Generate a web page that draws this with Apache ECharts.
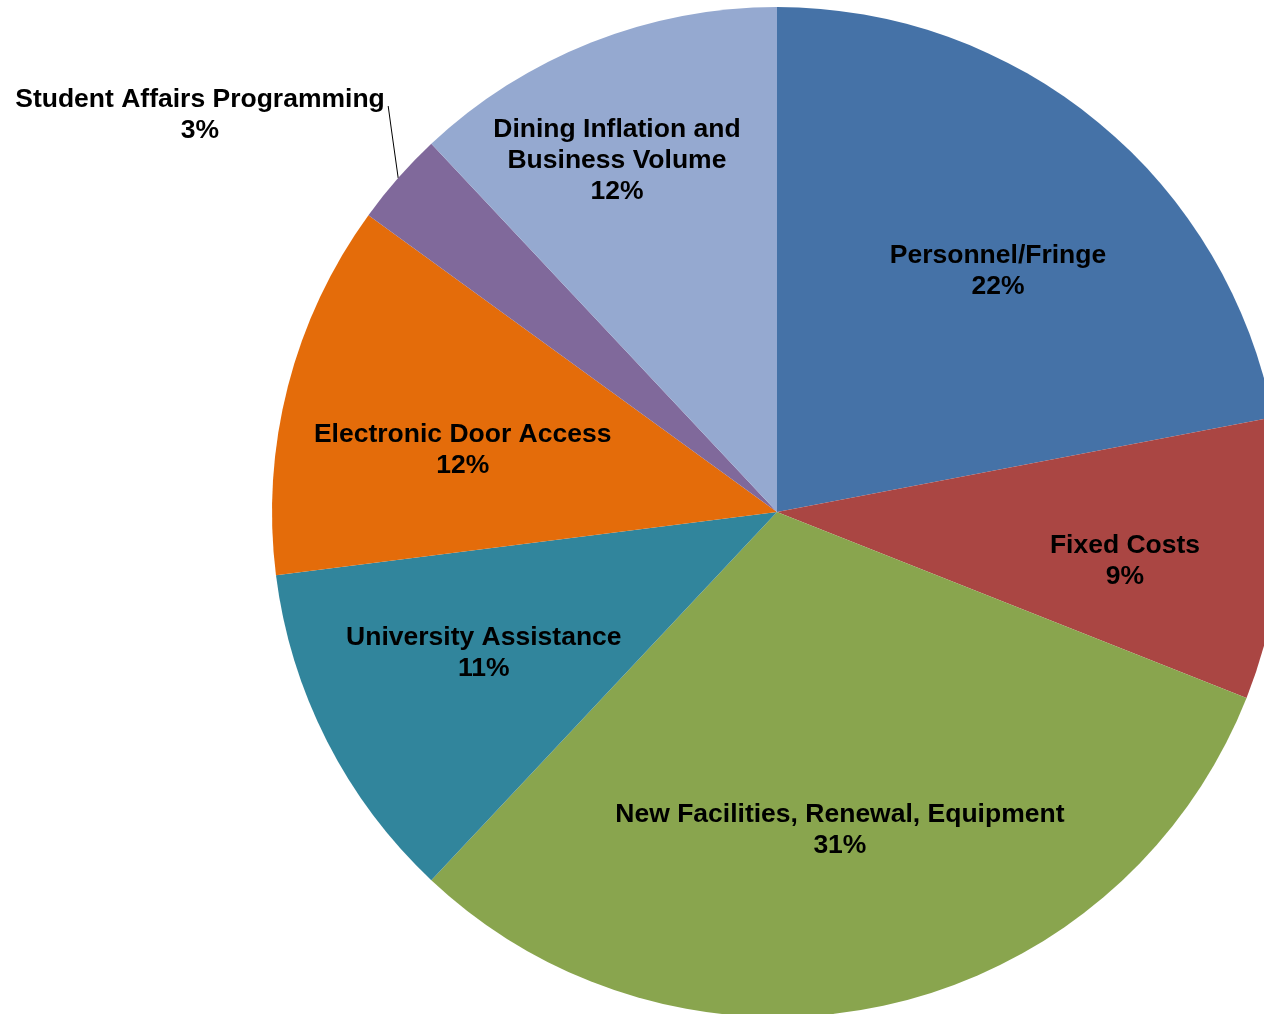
<!DOCTYPE html>
<html>
<head>
<meta charset="utf-8">
<style>
  html, body { margin: 0; padding: 0; background: #ffffff; }
  #chart { width: 1264px; height: 1014px; }
</style>
<script src="https://cdn.jsdelivr.net/npm/echarts@6/dist/echarts.min.js"></script>
</head>
<body>
<div id="chart"></div>
<script>
// Budget increase components, share of total (%), clockwise from 12 o'clock
const categories = [
  'Personnel/Fringe',
  'Fixed Costs',
  'New Facilities, Renewal, Equipment',
  'University Assistance',
  'Electronic Door Access',
  'Student Affairs Programming',
  'Dining Inflation and\nBusiness Volume'
];
const shares = [22, 9, 31, 11, 12, 3, 12];
const sliceColors = ['#4572A7', '#AA4643', '#89A54E', '#31859C', '#E46C0A', '#80699B', '#95A9D0'];

// Label placement inside the pie: distance from centre (px) and angle
// (degrees clockwise from 12 o'clock). null = label drawn outside with a leader.
const labelRadius = [329, 351, 321, 324, 321, null, 389];
const labelAngle  = [42.2, 97.5, 168.7, 244.8, 281.7, null, 335.7];

const CX = 777, CY = 512, R = 505;
const LABEL_NUDGE_Y = 3;

// Mid-angle of a slice, degrees clockwise from 12 o'clock
const total = shares.reduce((a, b) => a + b, 0);
function midAngle(i) {
  let before = 0;
  for (let k = 0; k < i; k++) before += shares[k];
  return (before + shares[i] / 2) / total * 360;
}
function polar(r, deg) {
  const a = deg * Math.PI / 180;
  return [CX + r * Math.sin(a), CY - r * Math.cos(a)];
}

const chart = echarts.init(document.getElementById('chart'), null, { renderer: 'canvas' });

const data = categories.map((name, i) => {
  const item = { name: name, value: shares[i], itemStyle: { color: sliceColors[i] } };
  if (labelRadius[i] === null) {
    item.label = { position: 'outside' };
    item.labelLine = { show: true, lineStyle: { color: '#000', width: 1 } };
  }
  return item;
});

chart.setOption({
  animation: false,
  backgroundColor: '#ffffff',
  series: [{
    type: 'pie',
    center: [CX, CY],
    radius: R,
    startAngle: 90,
    clockwise: true,
    silent: true,
    avoidLabelOverlap: false,
    itemStyle: { borderWidth: 0 },
    label: {
      show: true,
      position: 'inside',
      color: '#000',
      fontFamily: 'Liberation Sans, Arial, sans-serif',
      fontWeight: 'bold',
      fontSize: 26.5,
      lineHeight: 31,
      align: 'center',
      formatter: p => p.name + '\n' + p.value + '%'
    },
    labelLine: { show: false },
    labelLayout: function (p) {
      const i = p.dataIndex;
      if (labelRadius[i] === null) {
        // Outside label at the upper left, leader runs from the slice rim
        const edge = polar(R, midAngle(i));
        return {
          x: 200, y: 115, align: 'center', verticalAlign: 'middle',
          labelLinePoints: [edge, [edge[0] - 7, edge[1] - 50], [edge[0] - 10, edge[1] - 72]]
        };
      }
      const pos = polar(labelRadius[i], labelAngle[i]);
      return { x: pos[0], y: pos[1] + LABEL_NUDGE_Y, align: 'center', verticalAlign: 'middle' };
    },
    data: data
  }]
});
</script>
</body>
</html>
